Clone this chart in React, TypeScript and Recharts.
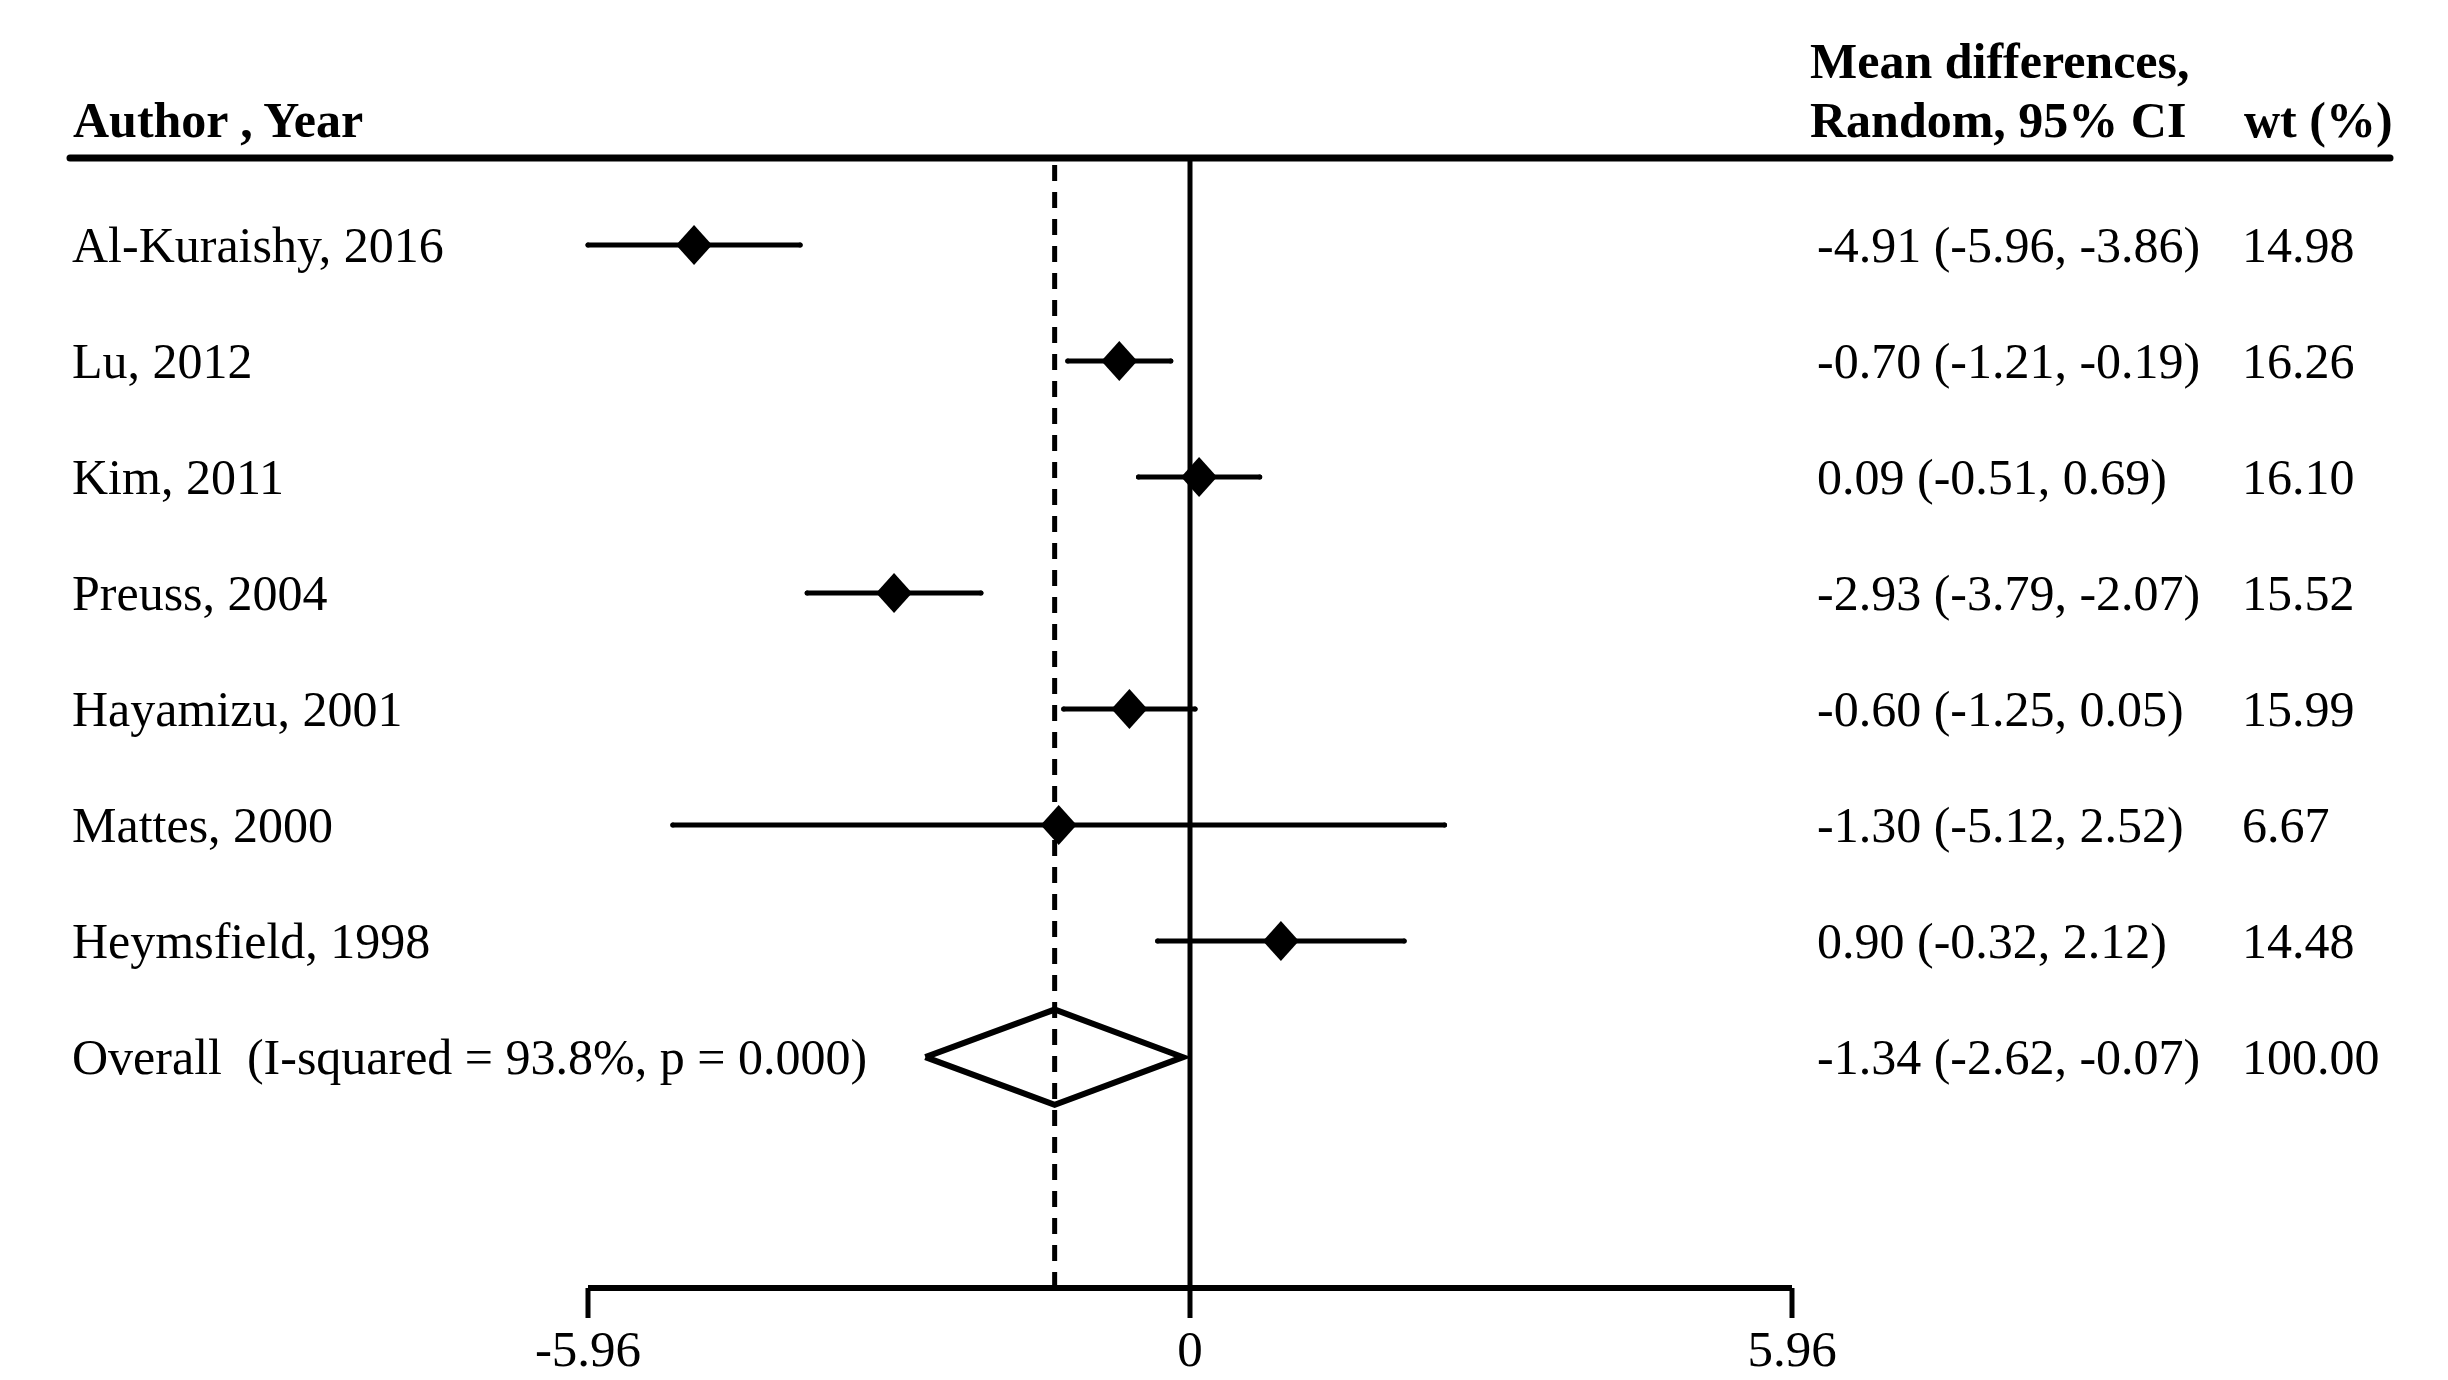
import React from 'react';
import { ScatterChart, Scatter, XAxis, YAxis, ErrorBar, ReferenceLine } from 'recharts';

const studies = [
  'Al-Kuraishy, 2016',
  'Lu, 2012',
  'Kim, 2011',
  'Preuss, 2004',
  'Hayamizu, 2001',
  'Mattes, 2000',
  'Heymsfield, 1998',
];
const meanDiff = [-4.91, -0.7, 0.09, -2.93, -0.6, -1.3, 0.9];
const ciLow = [-5.96, -1.21, -0.51, -3.79, -1.25, -5.12, -0.32];
const ciHigh = [-3.86, -0.19, 0.69, -2.07, 0.05, 2.52, 2.12];
const weights = ['14.98', '16.26', '16.10', '15.52', '15.99', '6.67', '14.48'];

const overallLabel = 'Overall  (I-squared = 93.8%, p = 0.000)';
const overallMd = -1.34;
const overallLow = -2.62;
const overallHigh = -0.07;
const overallWt = '100.00';

const xTicks = [-5.96, 0, 5.96];

const FONT = '"Liberation Serif", "Times New Roman", serif';
const W = 2448;
const H = 1380;

const fmt = (v: number) => v.toFixed(2);

const rows = studies.map((label, i) => ({
  row: i,
  md: meanDiff[i],
  err: [meanDiff[i] - ciLow[i], ciHigh[i] - meanDiff[i]],
  label,
  ci: `${fmt(meanDiff[i])} (${fmt(ciLow[i])}, ${fmt(ciHigh[i])})`,
  wt: weights[i],
}));

const overallRow = studies.length;
const overallText = [
  {
    row: overallRow,
    md: overallMd,
    label: overallLabel,
    ci: `${fmt(overallMd)} (${fmt(overallLow)}, ${fmt(overallHigh)})`,
    wt: overallWt,
  },
];

// diamond outline for the pooled estimate (half height in row units)
const DIAMOND_H = 0.41;
const overallDiamond = [
  { md: overallLow, row: overallRow },
  { md: overallMd, row: overallRow - DIAMOND_H },
  { md: overallHigh, row: overallRow },
  { md: overallMd, row: overallRow + DIAMOND_H },
  { md: overallLow, row: overallRow },
];

const textStyle = { fontFamily: FONT, fontSize: 50, fill: '#000', whiteSpace: 'pre' as const };

const RowText = ({ cy, payload }: any) => (
  <g>
    <text x={72} y={cy + 17} style={textStyle}>{payload.label}</text>
    <text x={1817} y={cy + 17} style={textStyle}>{payload.ci}</text>
    <text x={2242} y={cy + 17} style={textStyle}>{payload.wt}</text>
  </g>
);

const StudyShape = (props: any) => {
  const { cx, cy } = props;
  return (
    <g>
      <polygon
        points={`${cx - 18},${cy} ${cx},${cy - 20} ${cx + 18},${cy} ${cx},${cy + 20}`}
        fill="#000"
      />
      <RowText {...props} />
    </g>
  );
};

export default function App() {
  return (
    <div style={{ position: 'absolute', left: 0, top: 0, width: W, height: H, background: '#fff' }}>
      <ScatterChart width={W} height={H} margin={{ top: 158, right: 656, bottom: 62, left: 588 }}>
        <XAxis
          type="number"
          dataKey="md"
          domain={[-5.96, 5.96]}
          ticks={xTicks}
          interval={0}
          height={30}
          axisLine={{ stroke: '#000', strokeWidth: 6 }}
          tickLine={{ stroke: '#000', strokeWidth: 5 }}
          tickSize={30}
          tickMargin={12}
          tick={{ fill: '#000', fontSize: 51, fontFamily: FONT }}
        />
        <YAxis type="number" dataKey="row" domain={[-0.75, 8.99]} reversed hide />
        <ReferenceLine x={0} stroke="#000" strokeWidth={5} />
        <ReferenceLine x={overallMd} stroke="#000" strokeWidth={5} strokeDasharray="16 11" />
        <Scatter data={rows} shape={<StudyShape />} isAnimationActive={false}>
          <ErrorBar dataKey="err" direction="x" width={0} stroke="#000" strokeWidth={5} strokeLinecap="round" />
        </Scatter>
        <Scatter
          data={overallDiamond}
          line={{ stroke: '#000', strokeWidth: 6, fill: 'none', strokeLinejoin: 'miter' }}
          shape={() => <g />}
          isAnimationActive={false}
        />
        <Scatter data={overallText} shape={<RowText />} isAnimationActive={false} />
      </ScatterChart>
      <svg
        width={W}
        height={H}
        style={{ position: 'absolute', left: 0, top: 0, pointerEvents: 'none' }}
      >
        <g style={{ fontFamily: FONT, fontSize: 50, fontWeight: 'bold' }} fill="#000">
          <text x={73} y={137}>Author , Year</text>
          <text x={1810} y={78}>Mean differences,</text>
          <text x={1810} y={137}>Random, 95% CI</text>
          <text x={2244} y={137}>wt (%)</text>
        </g>
        <line x1={70} x2={2390} y1={158} y2={158} stroke="#000" strokeWidth={7} strokeLinecap="round" />
      </svg>
    </div>
  );
}
